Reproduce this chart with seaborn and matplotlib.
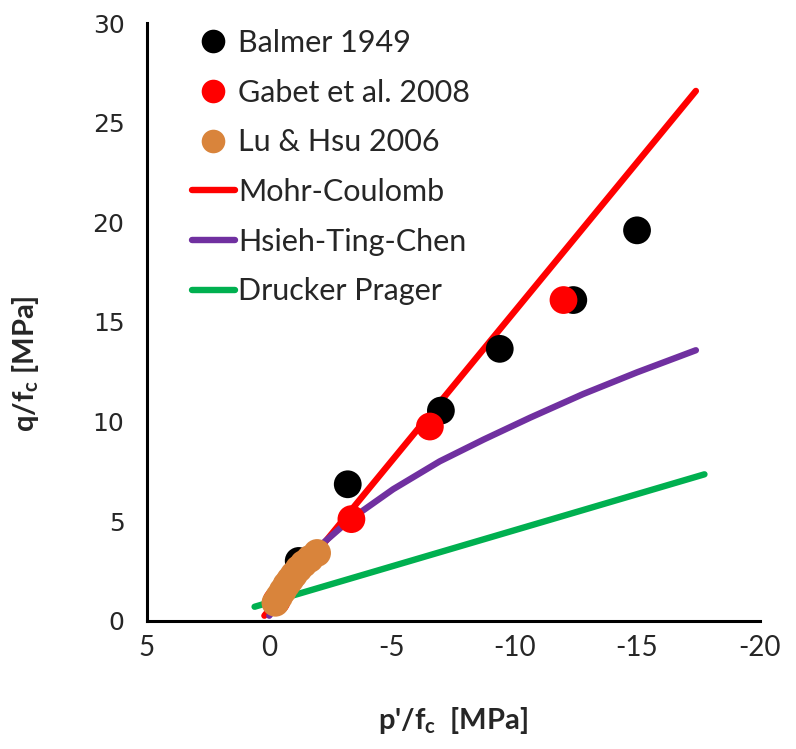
import matplotlib
matplotlib.use("Agg")
import matplotlib.pyplot as plt
import seaborn as sns
import pandas as pd
from matplotlib.lines import Line2D

# ---- data ----
balmer_p = [-1.2, -3.2, -7.0, -9.4, -12.4, -15.0]
balmer_q = [3.0, 6.85, 10.55, 13.65, 16.1, 19.6]

gabet_p = [-0.3, -3.35, -6.55, -12.0]
gabet_q = [1.0, 5.1, 9.75, 16.1]

lu_p = [-0.25, -0.4, -0.55, -0.7, -0.85, -1.0, -1.2, -1.4, -1.65, -1.95]
lu_q = [0.9, 1.2, 1.5, 1.8, 2.05, 2.3, 2.6, 2.85, 3.1, 3.4]

mc_p = [0.2, -17.4]
mc_q = [0.25, 26.6]

htc_p = [0.0, -1.0, -2.2, -3.3, -5.05, -6.95, -8.75, -10.65, -12.8, -15.0, -17.4]
htc_q = [0.25, 1.95, 3.9, 5.08, 6.6, 8.0, 9.1, 10.2, 11.38, 12.47, 13.58]

dp_p = [0.6, -17.75]
dp_q = [0.7, 7.35]

xticks = [5, 0, -5, -10, -15, -20]
yticks = [0, 5, 10, 15, 20, 25, 30]

RED = "#FF0000"
PURPLE = "#7030A0"
GREEN = "#00B050"
ORANGE = "#D9843B"

sns.set_style("white")
plt.rcParams["font.family"] = ["Lato", "DejaVu Sans"]
plt.rcParams["mathtext.fontset"] = "custom"
plt.rcParams["mathtext.bf"] = "Lato:bold"
plt.rcParams["mathtext.rm"] = "Lato"

fig = plt.figure(figsize=(7.96, 7.49), dpi=100)
ax = fig.add_axes([0.1843, 0.1713, 0.770, 0.7977])

lw = 4.6
sns.lineplot(x=mc_p, y=mc_q, ax=ax, color=RED, lw=lw, sort=False, estimator=None,
             solid_capstyle="round", zorder=2)
sns.lineplot(x=htc_p, y=htc_q, ax=ax, color=PURPLE, lw=lw, sort=False, estimator=None,
             solid_capstyle="round", zorder=3)
sns.lineplot(x=dp_p, y=dp_q, ax=ax, color=GREEN, lw=lw, sort=False, estimator=None,
             solid_capstyle="round", zorder=2)

s = 400
sns.scatterplot(x=balmer_p, y=balmer_q, ax=ax, color="black", s=s, edgecolor="none", zorder=4)
sns.scatterplot(x=gabet_p, y=gabet_q, ax=ax, color=RED, s=s, edgecolor="none", zorder=5)
sns.scatterplot(x=lu_p, y=lu_q, ax=ax, color=ORANGE, s=s, edgecolor="none", zorder=6)

ax.set_xlim(5, -20)
ax.set_ylim(0, 30)
ax.set_xticks(xticks)
ax.set_yticks(yticks)
ax.set_xticklabels([str(t) for t in xticks], fontsize=20, family=["Lato", "DejaVu Sans"])
ax.set_yticklabels([str(t) for t in yticks], fontsize=18, family=["DejaVu Sans"])

for sp in ["top", "right"]:
    ax.spines[sp].set_visible(False)
for sp in ["left", "bottom"]:
    ax.spines[sp].set_linewidth(2.2)
    ax.spines[sp].set_color("black")
ax.tick_params(axis="both", direction="out", length=8, width=2.2, color="black")
ax.tick_params(axis="x", pad=2)
ax.tick_params(axis="y", pad=8)

ax.set_xlabel(r"p'/f$_\mathbf{c}$  [MPa]", fontsize=21, fontweight="bold", labelpad=32)
ax.set_ylabel(r"q/f$_\mathbf{c}$ [MPa]", fontsize=21, fontweight="bold")
ax.yaxis.set_label_coords(-0.172, 0.43)

ms = 17
handles = [
    Line2D([], [], ls="none", marker="o", ms=ms, color="black", mec="none"),
    Line2D([], [], ls="none", marker="o", ms=ms, color=RED, mec="none"),
    Line2D([], [], ls="none", marker="o", ms=ms, color=ORANGE, mec="none"),
    Line2D([], [], color=RED, lw=lw, solid_capstyle="round"),
    Line2D([], [], color=PURPLE, lw=lw, solid_capstyle="round"),
    Line2D([], [], color=GREEN, lw=lw, solid_capstyle="round"),
]
labels = ["Balmer 1949", "Gabet et al. 2008", "Lu & Hsu 2006",
          "Mohr-Coulomb", "Hsieh-Ting-Chen", "Drucker Prager"]
ax.legend(handles, labels, loc="upper left", bbox_to_anchor=(0.054, 1.011),
          frameon=False, fontsize=22, handlelength=1.4, handletextpad=0.1,
          labelspacing=0.71, borderaxespad=0)

fig.savefig("out.png", dpi=100)
